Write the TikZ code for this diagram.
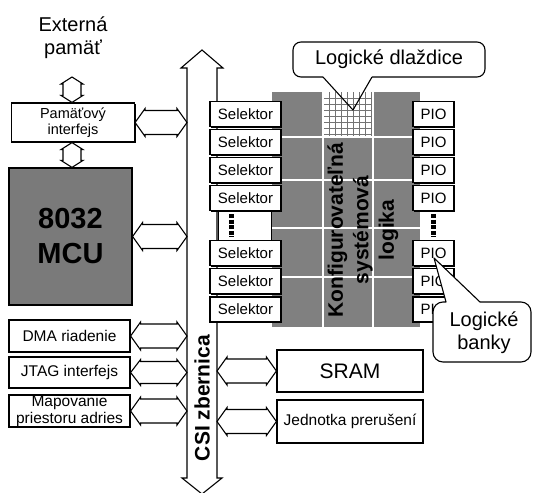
\documentclass[tikz,border=0pt]{standalone}
\usepackage{fontspec}
\setmainfont{Liberation Sans}
\usetikzlibrary{calc,shadows}
\begin{document}
\begin{tikzpicture}[x=1pt,y=-1pt,
  blk/.style={draw=black, line width=1.1pt, fill=white, line join=miter},
  box/.style={draw=black, line width=1.2pt, fill=white, inner sep=0pt, align=center,
    drop shadow={shadow xshift=1.1pt, shadow yshift=-1.1pt, opacity=1, fill=black}},
  plainbox/.style={draw=black, line width=1.2pt, fill=white, inner sep=0pt, align=center},
  sel/.style={box, minimum width=71pt, minimum height=25pt, font=\fontsize{15}{17}\selectfont},
  pio/.style={box, minimum width=41pt, minimum height=25pt, font=\fontsize{15}{17}\selectfont},
  lbox/.style={box, minimum width=121pt, minimum height=31pt, font=\fontsize{15.5}{17}\selectfont},
  rbox/.style={box, minimum width=146pt, minimum height=42pt},
  callout/.style={draw=black, line width=1.1pt, line join=round},
  dots/.style={line width=5pt, dash pattern=on 4pt off 1.6pt},
  gridw/.style={white, line width=2pt},
]
\useasboundingbox (0,0) rectangle (536,493);

\newcommand\harrow[3]{%
  \draw[blk] (#1) -- ++(10,-#3) -- ++(0,2) -- ($(#2)+(-10,-#3+2)$) -- ++(0,-2) -- (#2)
    -- ++(-10,#3) -- ++(0,-2) -- ($(#1)+(10,#3-2)$) -- ++(0,2) -- cycle;}
\newcommand\varrow[3]{%
  \draw[blk] (#1) -- ++(-#3,7) -- ++(2,0) -- ($(#2)+(-#3+2,-7)$) -- ++(-2,0) -- (#2)
    -- ++(#3,-7) -- ++(-2,0) -- ($(#1)+(#3-2,7)$) -- ++(2,0) -- cycle;}

% ---------- configurable logic block ----------
\fill[black!50] (272,92) rectangle (420,327);
\foreach \yy in {137,180,228,277} \draw[gridw] (272,\yy) -- (420,\yy);
\foreach \xx in {323,373} \draw[gridw] (\xx,92) -- (\xx,327);
\fill[white] (324,92) rectangle (372,136);
\foreach \xx in {329,335,...,371} \draw[black!55, line width=0.5pt] (\xx,92) -- (\xx,136);
\foreach \yy in {98,104,...,134} \draw[black!55, line width=0.5pt] (324,\yy) -- (372,\yy);
\node[rotate=90, align=center, font=\fontsize{21}{25.5}\selectfont\bfseries] (logic) at (363,230)
  {Konfigurovateľná\\systémová\\logika};

% ---------- CSI bus ----------
\coordinate (busL) at (187,0);
\coordinate (busR) at (217,0);
\draw[blk] (202,50) -- (223,68) -- (217,68) -- (217,478) -- (222,478) -- (202,494)
  -- (182,478) -- (187,478) -- (187,68) -- (181,68) -- cycle;
\node[rotate=90, font=\fontsize{21}{24}\selectfont\bfseries] (csi) at (202,398) {CSI zbernica};

% ---------- selectors ----------
\node[sel] (s1) at (245.5,114) {Selektor};
\node[sel] (s2) at (245.5,142) {Selektor};
\node[sel] (s3) at (245.5,170) {Selektor};
\node[sel] (s4) at (245.5,198) {Selektor};
\node[draw=black, line width=0.8pt, fill=white, minimum width=53pt, minimum height=29pt, inner sep=0pt] (sdots) at (244.5,225.5) {};
\draw[dots] (231,214) -- (231,237);
\node[sel] (s5) at (245.5,253) {Selektor};
\node[sel] (s6) at (245.5,281) {Selektor};
\node[sel] (s7) at (245.5,309.5) {Selektor};

% ---------- PIO ----------
\node[pio] (p1) at (433.5,114) {PIO};
\node[pio] (p2) at (433.5,142) {PIO};
\node[pio] (p3) at (433.5,170) {PIO};
\node[pio] (p4) at (433.5,198) {PIO};
\draw[dots] (433,214) -- (433,237);
\node[pio] (p5) at (433.5,253) {PIO};
\node[pio] (p6) at (433.5,281) {PIO};
\node[pio] (p7) at (433.5,309.5) {PIO};

% ---------- left column ----------
\node[align=center, font=\fontsize{20}{23}\selectfont] (ext) at (73,38) {Externá\\pamäť};
\coordinate (extport) at (72,77);
\node[box, minimum width=123pt, minimum height=39pt, font=\fontsize{14.5}{16}\selectfont] (pam) at (73,122.5) {Pamäťový\\interfejs};
\node[box, fill=black!52, minimum width=123pt, minimum height=137pt, font=\fontsize{29}{35}\selectfont\bfseries] (mcu) at (70.5,236.5) {8032\\MCU};
\node[lbox, minimum height=32pt] (dma) at (69.5,336) {DMA riadenie};
\node[lbox] (jtag) at (69.5,372.5) {JTAG interfejs};
\node[lbox, minimum height=32pt] (map) at (69.5,411) {Mapovanie\\priestoru adries};

\varrow{extport}{extport |- pam.north}{11}
\varrow{pam.south -| extport}{mcu.north -| extport}{11}

\harrow{pam.east}{pam.east -| busL}{14}
\harrow{mcu.east}{mcu.east -| busL}{14}
\harrow{dma.east}{dma.east -| busL}{14}
\harrow{jtag.east}{jtag.east -| busL}{13}
\harrow{map.east}{map.east -| busL}{14}

% ---------- right bottom ----------
\node[rbox, font=\fontsize{21}{24}\selectfont] (sram) at (350,371) {SRAM};
\node[rbox, minimum height=43pt, font=\fontsize{15.5}{17}\selectfont] (irq) at (350,421.5) {Jednotka prerušení};
\harrow{sram.west -| busR}{sram.west}{14}
\harrow{irq.west -| busR}{irq.west}{14}

% ---------- callouts ----------
\node[font=\fontsize{20}{23}\selectfont] (tiles) at (389,59.5) {Logické dlaždice};
\filldraw[callout, fill=white] (323,77) -- (301,77) arc[start angle=90, end angle=180, radius=8]
  -- (293,50) arc[start angle=180, end angle=270, radius=8] -- (477,42)
  arc[start angle=270, end angle=360, radius=8] -- (485,69)
  arc[start angle=0, end angle=90, radius=8] -- (372,77);
\draw[callout] (323,77) -- (353,110) -- (372,77);
\node[font=\fontsize{20}{23}\selectfont] at (tiles) {Logické dlaždice};

\coordinate (banktip) at (434,258);
\filldraw[callout, fill=white] (banktip) -- (480,302) -- (521,302)
  arc[start angle=270, end angle=360, radius=10] -- (531,352)
  arc[start angle=0, end angle=90, radius=10] -- (443,362)
  arc[start angle=90, end angle=180, radius=10] -- (433,312)
  arc[start angle=180, end angle=270, radius=10] -- (446,302) -- cycle;
\node[align=center, font=\fontsize{20}{23}\selectfont] (banks) at (484,333) {Logické\\banky};
\end{tikzpicture}
\end{document}
